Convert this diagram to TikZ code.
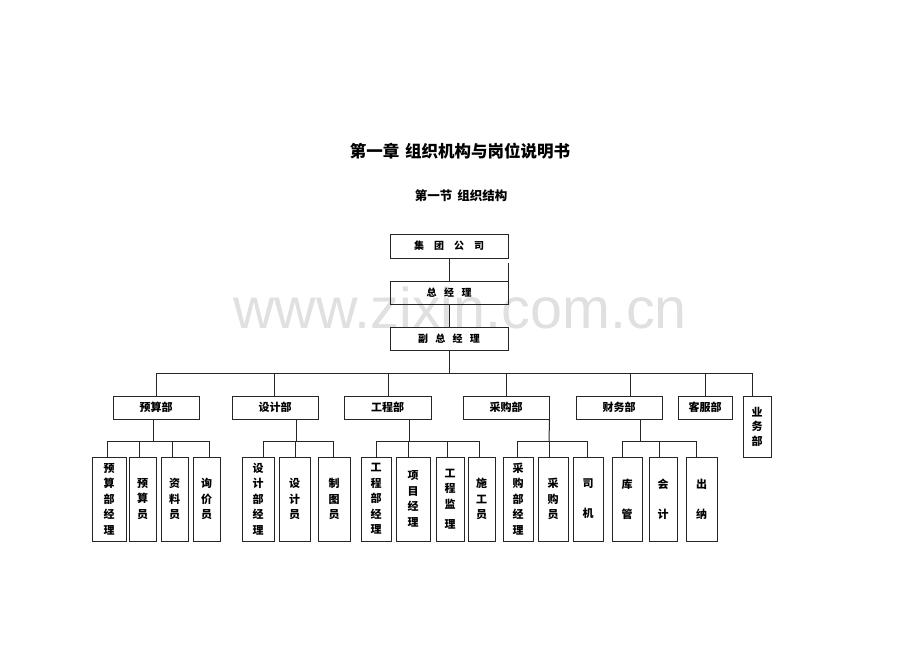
\documentclass[tikz,border=0pt]{standalone}
\usepackage{fontspec}
\setmainfont{Noto Sans CJK SC}
\newfontfamily\wmfont{Liberation Sans}
\usetikzlibrary{calc}
\begin{document}
\begin{tikzpicture}[x=1pt,y=-1pt,
  line width=1pt, draw=black!85,
  topbox/.style={draw, line width=1pt, inner sep=0pt, minimum width=118pt, font=\bfseries\fontsize{10}{12}\selectfont},
  dept/.style={draw, line width=1pt, inner sep=0pt, minimum height=23pt, font=\bfseries\fontsize{11}{13}\selectfont},
  leaf/.style={draw, line width=1pt, inner sep=0pt, minimum height=84pt, align=center, font=\bfseries\fontsize{11}{15.5}\selectfont},
  conn/.style={draw=black!85, line width=1pt}]
\useasboundingbox (0,0) rectangle (920,651);
% watermark
\node[anchor=base, text=black!12, font=\wmfont\fontsize{57.5}{60}\selectfont] (wm) at (460,328) {www.zixin.com.cn};
% titles
\node[font=\bfseries\fontsize{16.5}{18}\selectfont] (title) at (460,151) {第一章\hspace{6pt}组织机构与岗位说明书};
\node[font=\bfseries\fontsize{12.5}{14}\selectfont] (sub) at (461,196) {第一节\hspace{5pt}组织结构};
% top chain
\node[topbox, minimum height=24pt] (jt) at (449,246) {集\quad 团\quad 公\quad 司};
\node[topbox, minimum height=23pt] (zj) at (449,292.5) {总\hspace{7.5pt}经\hspace{7.5pt}理};
\node[topbox, minimum height=23pt] (fz) at (449,338.5) {副\hspace{7.3pt}总\hspace{7.3pt}经\hspace{7.3pt}理};
\draw[conn] (jt.south) -- (zj.north);
\coordinate (xr) at (508.5,263);
\draw[conn] (xr) -- (xr |- zj.north);
\draw[conn] (zj.south) -- (fz.north);
% main bus
\coordinate (busL) at (156,373);
\coordinate (busR) at (752,373);
\coordinate (busM) at (449,373);
\draw[conn] (fz.south) -- (busM);
\draw[conn] (busL) -- (busR);
% departments
\foreach \n/\cx/\w/\dx/\t in {ys/156/86/156/预算部, sj/275/86/274/设计部, gc/387.5/87/388/工程部, cg/506/86/506/采购部, cw/619/86/630/财务部, kf/705/54/705/客服部}{
  \node[dept, minimum width=\w] (\n) at (\cx,407.5) {\t};
  \coordinate (\n b) at (\dx,373);
  \draw[conn] (\n b) -- (\n b |- \n.north);
}
\node[draw, line width=1pt, inner sep=0pt, minimum width=28pt, minimum height=61pt, align=center, font=\bfseries\fontsize{11}{14.5}\selectfont] (yw) at (757,426.5) {业\\务\\部};
\coordinate (ywb) at (752,373);
\draw[conn] (ywb) -- (ywb |- yw.north);
% leaves
\foreach \n/\cx/\w/\dx/\t in {
  a1/109/34/107/{预\\算\\部\\经\\理},
  a2/142.5/27/139/{预\\算\\员},
  a3/174.5/27/172/{资\\料\\员},
  a4/206.5/27/209/{询\\价\\员},
  b1/258/32/263/{设\\计\\部\\经\\理},
  b2/294.5/31/295/{设\\计\\员},
  b3/334/32/333/{制\\图\\员},
  c1/376/30/376/{工\\程\\部\\经\\理},
  c2/413/34/408/{项\\目\\经\\理},
  c3/450/28/447/{工\\程\\监\\[5pt]理},
  c4/481.5/27/479/{施\\工\\员},
  d1/518/30/517/{采\\购\\部\\经\\理},
  d2/553/30/549/{采\\购\\员},
  d3/588/30/587/{司\\[14.5pt]机},
  e1/627/30/622/{库\\[14.5pt]管},
  e2/663/28/659/{会\\[14.5pt]计},
  e3/701.5/31/696/{出\\[14.5pt]纳}}{
  \node[leaf, minimum width=\w] (\n) at (\cx,499) {\t};
  \coordinate (\n t) at (\dx,441);
  \draw[conn] (\n t) -- (\n t |- \n.north);
}
% sub buses
\draw[conn] (a1t) -- (a4t);
\draw[conn] (b1t) -- (b3t);
\draw[conn] (c1t) -- (c4t);
\draw[conn] (d1t) -- (d3t);
\draw[conn] (e1t) -- (e3t);
% department drops to sub buses
\coordinate (ysd) at (153,441);
\draw[conn] (ysd |- ys.south) -- (ysd);
\coordinate (sjd) at (296,441);
\draw[conn] (sjd |- sj.south) -- (sjd);
\coordinate (gcd) at (409,441);
\draw[conn] (gcd |- gc.south) -- (gcd);
\draw[conn] (cg.south east) -- (d2t);
\coordinate (cwd) at (640,441);
\draw[conn] (cwd |- cw.south) -- (cwd);
\end{tikzpicture}
\end{document}
